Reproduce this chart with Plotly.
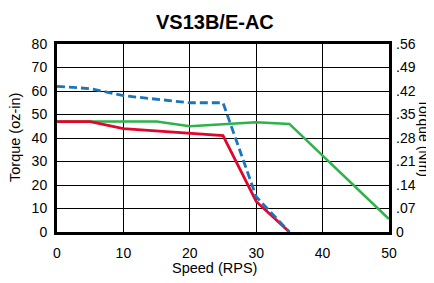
import plotly.graph_objects as go

speed = [0, 5, 10, 15, 20, 25, 30, 35]
blue_torque = [62, 61, 58, 56.5, 55, 55, 15, 0]
red_torque = [47, 47, 44, 43, 42, 41, 13, 0]
green_speed = [0, 5, 10, 15, 20, 25, 30, 35, 50]
green_torque = [47, 47, 47, 47, 45, 46, 46.7, 46, 5.5]

y_ticks = [0, 10, 20, 30, 40, 50, 60, 70, 80]
nm_tickvals = [0, 0.07, 0.14, 0.21, 0.28, 0.35, 0.42, 0.49, 0.56]
nm_ticktext = ["0", ".07", ".14", ".21", ".28", ".35", ".42", ".49", ".56"]
x_ticks = [0, 10, 20, 30, 40, 50]

OFF = 8  # page body margin
W, H = 434 - OFF, 283 - OFF
L, T = 57 - OFF, 44 - OFF
R = W - (389 - OFF)
B = H - (232 - OFF)
pw = W - L - R
ph = H - T - B

def px(x):
    return (x - OFF - L) / pw

def py(y):
    return 1 - (y - OFF - T) / ph

FONT = "Liberation Sans, Arial, sans-serif"

fig = go.Figure()
fig.add_trace(go.Scatter(x=green_speed, y=green_torque, mode="lines",
                         line=dict(color="#2DB34A", width=2.6), showlegend=False))
fig.add_trace(go.Scatter(x=speed, y=red_torque, mode="lines",
                         line=dict(color="#E2062C", width=2.8), showlegend=False))
fig.add_trace(go.Scatter(x=speed, y=blue_torque, mode="lines",
                         line=dict(color="#1B75BC", width=2.8, dash="8px,4px"), showlegend=False))
fig.add_trace(go.Scatter(x=[None], y=[None], yaxis="y2", showlegend=False, hoverinfo="skip"))

fig.update_layout(
    width=W, height=H,
    margin=dict(l=L, r=R, t=T, b=B, pad=0, autoexpand=False),
    paper_bgcolor="white", plot_bgcolor="white",
    font=dict(family=FONT, color="black", size=14),
    xaxis=dict(range=[0, 50], tickvals=x_ticks, showgrid=True, gridcolor="black", gridwidth=1,
               showline=True, linecolor="black", linewidth=3, mirror=True, zeroline=False,
               ticks="", ticklabelstandoff=6, tickfont=dict(size=14), automargin=False),
    yaxis=dict(range=[0, 80], tickvals=y_ticks, showgrid=True, gridcolor="black", gridwidth=1,
               showline=True, linecolor="black", linewidth=3, mirror=True, zeroline=False,
               ticks="", ticklabelstandoff=4, tickfont=dict(size=14), automargin=False),
    yaxis2=dict(range=[0, 0.56], overlaying="y", side="right", tickvals=nm_tickvals,
                ticktext=nm_ticktext, showgrid=False, showline=False, zeroline=False,
                ticks="", ticklabelstandoff=6, tickfont=dict(size=14), automargin=False),
    annotations=[
        dict(text="<b>VS13B/E-AC</b>", xref="paper", yref="paper",
             x=px(215), y=py(9), xanchor="center", yanchor="top",
             showarrow=False, font=dict(size=20, family=FONT)),
        dict(text="Speed (RPS)", xref="paper", yref="paper",
             x=px(214), y=py(268), xanchor="center", yanchor="middle",
             showarrow=False, font=dict(size=14.5, family=FONT)),
        dict(text="Torque (oz-in)", xref="paper", yref="paper", textangle=-90,
             x=px(15), y=0.5, xanchor="center", yanchor="middle",
             showarrow=False, font=dict(size=14.5, family=FONT)),
        dict(text="Torque (Nm)", xref="paper", yref="paper", textangle=90,
             x=px(424), y=0.5, xanchor="center", yanchor="middle",
             showarrow=False, font=dict(size=14, family=FONT)),
    ],
)

fig.write_html("out.html")
